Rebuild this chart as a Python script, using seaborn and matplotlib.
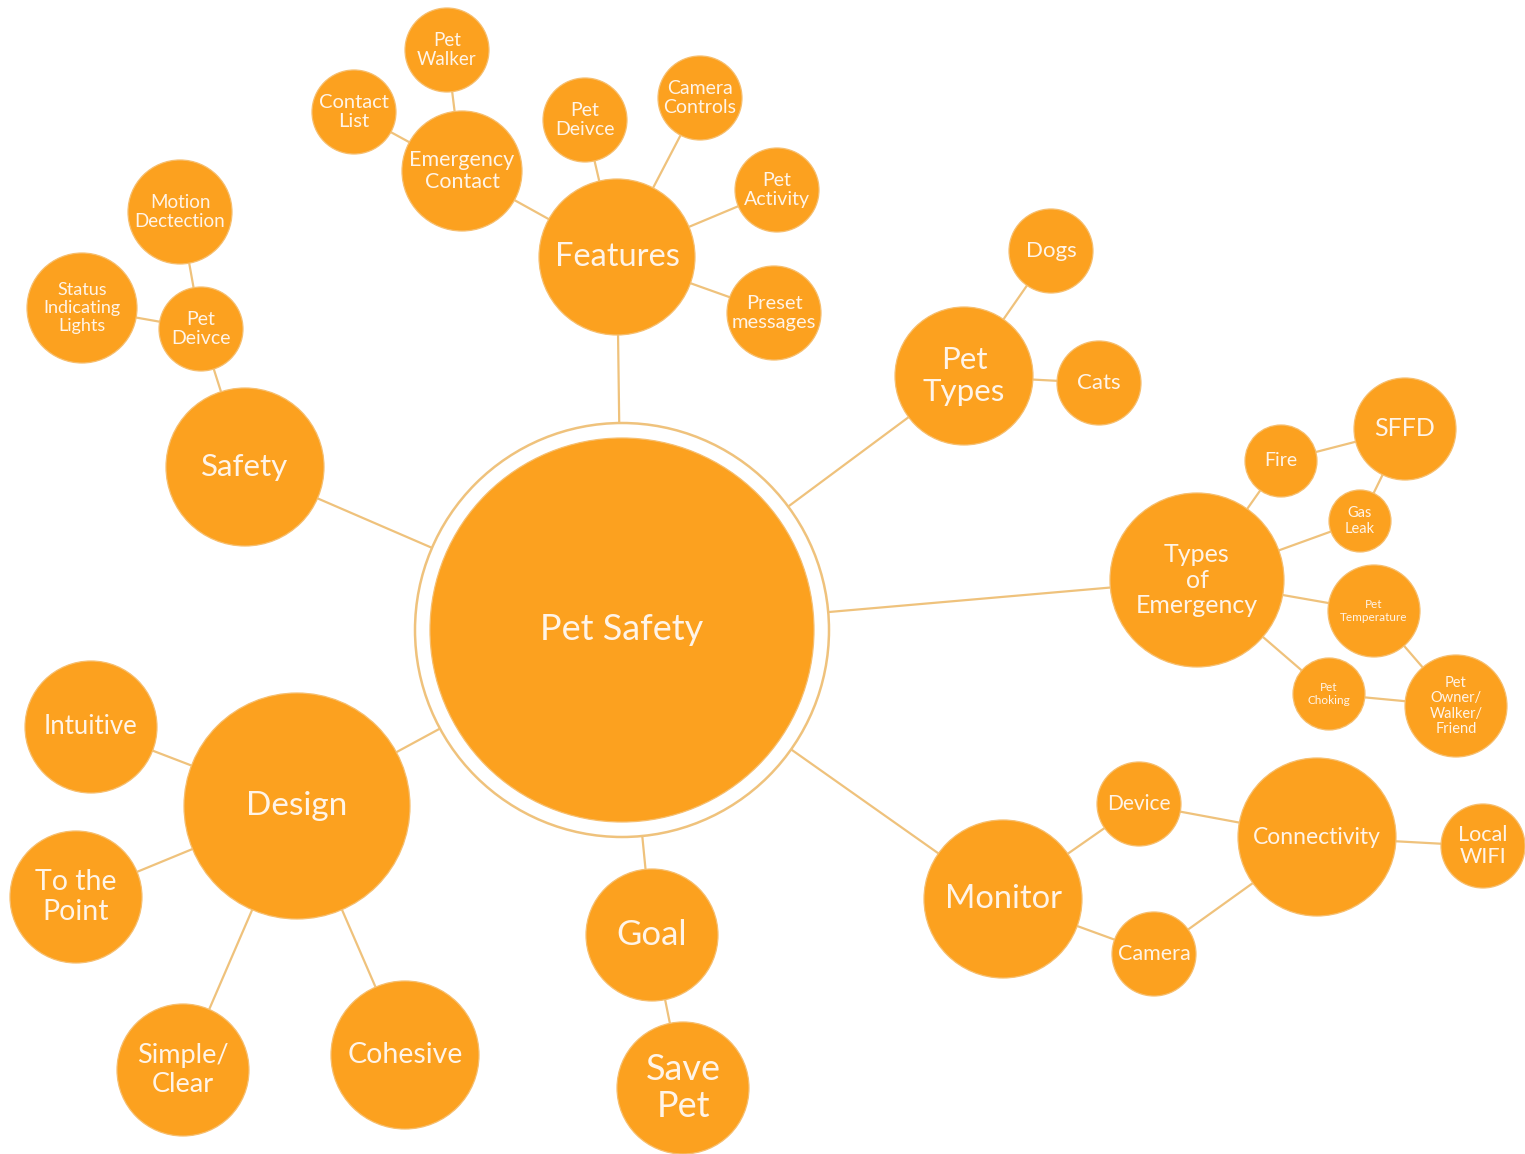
import numpy as np
import pandas as pd
import matplotlib
matplotlib.use("Agg")
import matplotlib.pyplot as plt
from matplotlib.patches import Circle
import seaborn as sns

# ---- data ----
node_ids = ["root", "features", "emerg_contact", "pet_walker", "contact_list", "pet_device_f",
            "camera_controls", "pet_activity", "preset", "safety", "pet_device_s", "motion",
            "status", "pet_types", "dogs", "cats", "toe", "fire", "sffd", "gas", "pet_temp",
            "pet_choking", "pet_owner", "monitor", "device", "camera", "connectivity", "wifi",
            "design", "intuitive", "to_point", "simple", "cohesive", "goal", "save_pet"]
node_labels = ["Pet Safety", "Features", "Emergency\nContact", "Pet\nWalker", "Contact\nList",
               "Pet\nDeivce", "Camera\nControls", "Pet\nActivity", "Preset\nmessages", "Safety",
               "Pet\nDeivce", "Motion\nDectection", "Status\nIndicating\nLights", "Pet\nTypes",
               "Dogs", "Cats", "Types\nof\nEmergency", "Fire", "SFFD", "Gas\nLeak",
               "Pet\nTemperature", "Pet\nChoking", "Pet\nOwner/\nWalker/\nFriend", "Monitor",
               "Device", "Camera", "Connectivity", "Local\nWIFI", "Design", "Intuitive",
               "To the\nPoint", "Simple/\nClear", "Cohesive", "Goal", "Save\nPet"]
node_x = [622, 617, 462, 447, 354, 585, 700, 777, 774, 245, 201, 180, 82, 964, 1051, 1099,
          1197, 1281, 1405, 1360, 1374, 1329, 1456, 1003, 1139, 1154, 1317, 1483,
          297, 91, 76, 183, 405, 652, 683]
node_y = [630, 257, 171, 50, 112, 120, 98, 190, 313, 467, 329, 212, 308, 376, 251, 383,
          580, 461, 429, 521, 611, 694, 706, 899, 804, 954, 837, 846,
          806, 727, 897, 1070, 1055, 935, 1088]
node_r = [192, 78, 60, 42, 42, 42, 42, 42, 47, 79, 42, 52, 55, 69, 42, 42,
          87, 36, 51, 31, 46, 36, 51, 79, 42, 42, 79, 42,
          113, 66, 66, 66, 74, 66, 66]
label_size = [26, 23.5, 15.5, 13.5, 14.5, 14, 14, 14, 14.5, 22.5, 14, 13.5, 13, 22.5, 16, 16,
              18, 14, 18, 10.5, 8.5, 8.5, 10.5, 23.5, 15, 15.5, 16.5, 15.5,
              24, 18.5, 20.5, 19.5, 20.5, 25, 26]

edge_from = ["root", "root", "root", "root", "root", "root", "root",
             "features", "features", "features", "features", "features",
             "emerg_contact", "emerg_contact",
             "safety", "pet_device_s", "pet_device_s",
             "pet_types", "pet_types",
             "toe", "fire", "toe", "gas", "toe", "pet_temp", "toe", "pet_choking",
             "monitor", "monitor", "device", "camera", "connectivity",
             "design", "design", "design", "design", "goal"]
edge_to = ["features", "safety", "design", "goal", "monitor", "toe", "pet_types",
           "emerg_contact", "pet_device_f", "camera_controls", "pet_activity", "preset",
           "pet_walker", "contact_list",
           "pet_device_s", "motion", "status",
           "dogs", "cats",
           "fire", "sffd", "gas", "sffd", "pet_temp", "pet_owner", "pet_choking", "pet_owner",
           "device", "camera", "connectivity", "connectivity", "wifi",
           "intuitive", "to_point", "simple", "cohesive", "save_pet"]

# ---- styling ----
FILL = "#FCA11F"
EDGE = "#F6BE6E"
LINE = "#EFC27C"
TEXT = "#FFF4E8"

nodes = pd.DataFrame({"id": node_ids, "label": node_labels, "x": node_x, "y": node_y,
                      "r": node_r, "fs": label_size}).set_index("id")

seg_rows = []
for k, (a, b) in enumerate(zip(edge_from, edge_to)):
    seg_rows.append({"edge": k, "order": 0, "x": nodes.at[a, "x"], "y": nodes.at[a, "y"]})
    seg_rows.append({"edge": k, "order": 1, "x": nodes.at[b, "x"], "y": nodes.at[b, "y"]})
segs = pd.DataFrame(seg_rows)

sns.set_theme(style="white")
plt.rcParams["font.family"] = ["Lato", "DejaVu Sans"]

fig = plt.figure(figsize=(15.25, 11.54), dpi=100)
ax = fig.add_axes([0, 0, 1, 1])

sns.lineplot(data=segs, x="x", y="y", units="edge", estimator=None, sort=False,
             color=LINE, linewidth=1.6, ax=ax, zorder=1, legend=False)

# outer ring of root
root = nodes.loc["root"]
ax.add_patch(Circle((root.x, root.y), root.r + 15, facecolor="white", edgecolor=LINE,
                    linewidth=1.8, zorder=2))

for nid, row in nodes.iterrows():
    ax.add_patch(Circle((row.x, row.y), row.r, facecolor=FILL, edgecolor=EDGE,
                        linewidth=0.9, zorder=3))
    ax.text(row.x, row.y, row.label, ha="center", va="center", fontsize=row.fs,
            color=TEXT, linespacing=1.15, zorder=4)

ax.set_xlim(0, 1525)
ax.set_ylim(1154, 0)
ax.set_aspect("equal")
ax.axis("off")

fig.savefig("out.png", dpi=100, facecolor="white")
